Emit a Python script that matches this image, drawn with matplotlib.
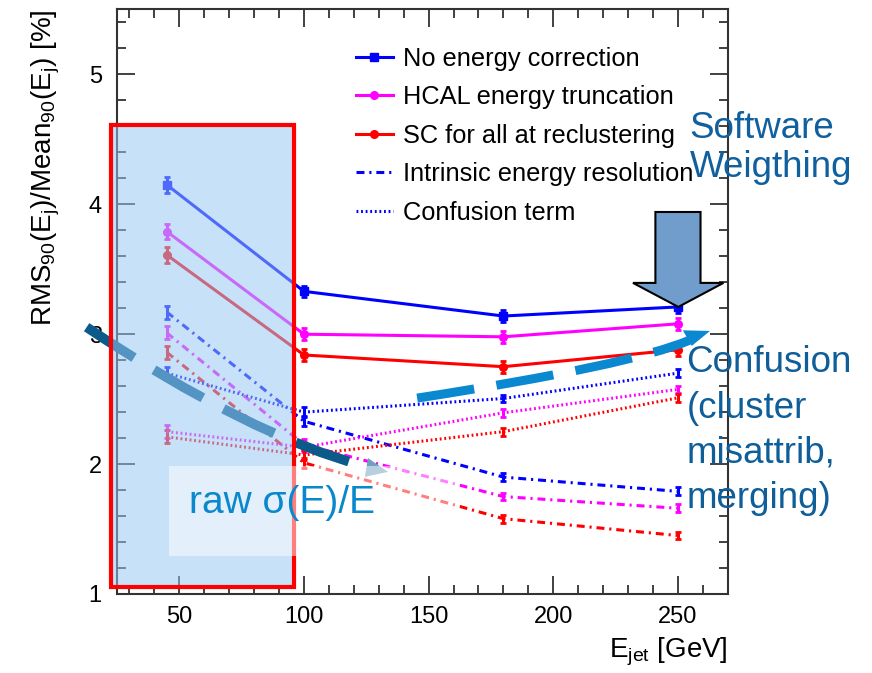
import numpy as np
import matplotlib.pyplot as plt
from matplotlib.patches import Rectangle, Polygon, PathPatch
from matplotlib.path import Path

plt.rcParams['font.family'] = ['Liberation Sans', 'DejaVu Sans']
plt.rcParams['mathtext.default'] = 'regular'

# jet energies [GeV]
energies = [45, 100, 180, 250]

# RMS90/Mean90 [%], total resolution
no_corr = [4.15, 3.33, 3.14, 3.21]
hcal_trunc = [3.79, 3.00, 2.98, 3.08]
sc_recluster = [3.61, 2.84, 2.75, 2.88]

# intrinsic energy resolution part
intr_no_corr = [3.17, 2.33, 1.90, 1.79]
intr_hcal = [3.01, 2.15, 1.75, 1.66]
intr_sc = [2.86, 2.01, 1.58, 1.45]

# confusion term part
conf_no_corr = [2.70, 2.40, 2.505, 2.70]
conf_hcal = [2.25, 2.13, 2.395, 2.575]
conf_sc = [2.21, 2.07, 2.25, 2.51]

err_total = [0.06, 0.045, 0.045, 0.045]
err_part = [0.05, 0.04, 0.03, 0.03]

legend_labels = ['No energy correction', 'HCAL energy truncation',
                 'SC for all at reclustering', 'Intrinsic energy resolution',
                 'Confusion term']

fig = plt.figure(figsize=(8.72, 6.73), dpi=100)
ax = fig.add_axes([0.1342, 0.1174, 0.7003, 0.8685])

dashdot = (0, (2.6, 1.6, 0.7, 1.6))
dotted = (0, (0.6, 0.9))

series = [
    (no_corr, 'blue', '-', 's', err_total),
    (hcal_trunc, 'magenta', '-', 'o', err_total),
    (sc_recluster, 'red', '-', 'o', err_total),
    (intr_no_corr, 'blue', dashdot, '', err_part),
    (intr_hcal, 'magenta', dashdot, '', err_part),
    (intr_sc, 'red', dashdot, '', err_part),
    (conf_no_corr, 'blue', dotted, '', err_part),
    (conf_hcal, 'magenta', dotted, '', err_part),
    (conf_sc, 'red', dotted, '', err_part),
]

handles = []
for vals, col, ls, mk, err in series:
    c = ax.errorbar(energies, vals, yerr=err, color=col, ls=ls, lw=2.2,
                    marker=mk, ms=5.5, elinewidth=2.2, capsize=2.5, capthick=2,
                    zorder=2)
    handles.append(c[0])

leg_handles = [handles[0], handles[1], handles[2], handles[3], handles[6]]
ax.legend(leg_handles, legend_labels, loc='upper left',
          bbox_to_anchor=(0.391, 0.936), frameon=False, fontsize=18.3,
          handlelength=1.45, handletextpad=0.4, labelspacing=0.57,
          borderpad=0, borderaxespad=0)

ax.set_xlim(25, 270)
ax.set_ylim(1, 5.5)
ax.set_xticks([50, 100, 150, 200, 250])
ax.set_xticks(np.arange(30, 270, 10), minor=True)
ax.set_yticks([1, 2, 3, 4, 5])
ax.set_yticks(np.arange(1, 5.5, 0.2), minor=True)
ax.tick_params(which='both', direction='in', top=True, right=True,
               color='#333333', width=1.3, labelsize=17)
ax.tick_params(which='major', length=13)
ax.tick_params(which='minor', length=6.5)
ax.tick_params(axis='x', pad=9)
ax.tick_params(axis='y', pad=11)
for sp in ax.spines.values():
    sp.set_linewidth(1.5)
    sp.set_color('#333333')

ax.set_ylabel('RMS$_{90}$(E$_j$)/Mean$_{90}$(E$_j$) [%]', fontsize=20, loc='top')
ax.yaxis.set_label_coords(-0.09, 1.0)
ax.set_xlabel('E$_{jet}$ [GeV]', fontsize=20, loc='right')
ax.xaxis.set_label_coords(1.0, -0.072)

# dark dashed arrow for the raw resolution trend
raw_path = Path([(12.8, 3.054), (77.7, 2.223), (125.0, 1.98)],
                [Path.MOVETO, Path.CURVE3, Path.CURVE3])
ax.add_patch(PathPatch(raw_path, fc='none', ec='#0B5A8A', lw=7,
                       ls=(0, (5.8, 2.4)), capstyle='butt',
                       clip_on=False, zorder=3))
ax.add_patch(Polygon([(125.7, 2.046), (133.8, 1.94), (124.4, 1.902)],
                     closed=True, fc='#6FA0C4', ec='none',
                     clip_on=False, zorder=3))

# shaded low-energy region
ax.add_patch(Rectangle((22.7, 1.05), 73.4, 3.558, fc=(150/255, 200/255, 245/255),
                       ec='none', alpha=0.53, clip_on=False, zorder=4))
ax.add_patch(Rectangle((22.7, 1.05), 73.4, 3.558, fc='none', ec='red',
                       lw=3, clip_on=False, zorder=5))

# label box
ax.add_patch(Rectangle((45.8, 1.29), 117.0, 0.695, fc='white', ec='none',
                       alpha=0.5, clip_on=False, zorder=6))
ax.text(54, 1.62, 'raw σ(E)/E', color='#0A88CC', fontsize=28,
        va='baseline', ha='left', zorder=7)

# light dashed arrow for the confusion trend
conf_path = Path([(145.4, 2.508), (231.3, 2.762), (254.7, 2.954)],
                 [Path.MOVETO, Path.CURVE3, Path.CURVE3])
ax.add_patch(PathPatch(conf_path, fc='none', ec='#0A88D0', lw=6.5,
                       ls=(0, (6.4, 2.5)), capstyle='butt',
                       clip_on=False, zorder=7))
ax.add_patch(Polygon([(252.0, 3.03), (255.6, 2.91), (262.9, 3.025)],
                     closed=True, fc='#0A88D0', ec='none',
                     clip_on=False, zorder=7))

# block arrow pointing at the uncorrected 250 GeV point
ax.add_patch(Polygon([(241.0, 3.941), (259.1, 3.941), (259.1, 3.395),
                      (268.3, 3.395), (250.2, 3.21), (232.0, 3.395),
                      (241.0, 3.395)],
                     closed=True, fc='#709DCC', ec='black', lw=1.5,
                     clip_on=False, zorder=8))

ax.text(254.7, 4.72, 'Software\nWeigthing', color='#1060A0', fontsize=26.5,
        va='top', ha='left', linespacing=1.17, zorder=9)
ax.text(253.5, 2.915, 'Confusion\n(cluster\nmisattrib,\nmerging)',
        color='#0E5E9A', fontsize=26.5, va='top', ha='left',
        linespacing=1.38, zorder=9)

fig.savefig('out.png', dpi=100)
